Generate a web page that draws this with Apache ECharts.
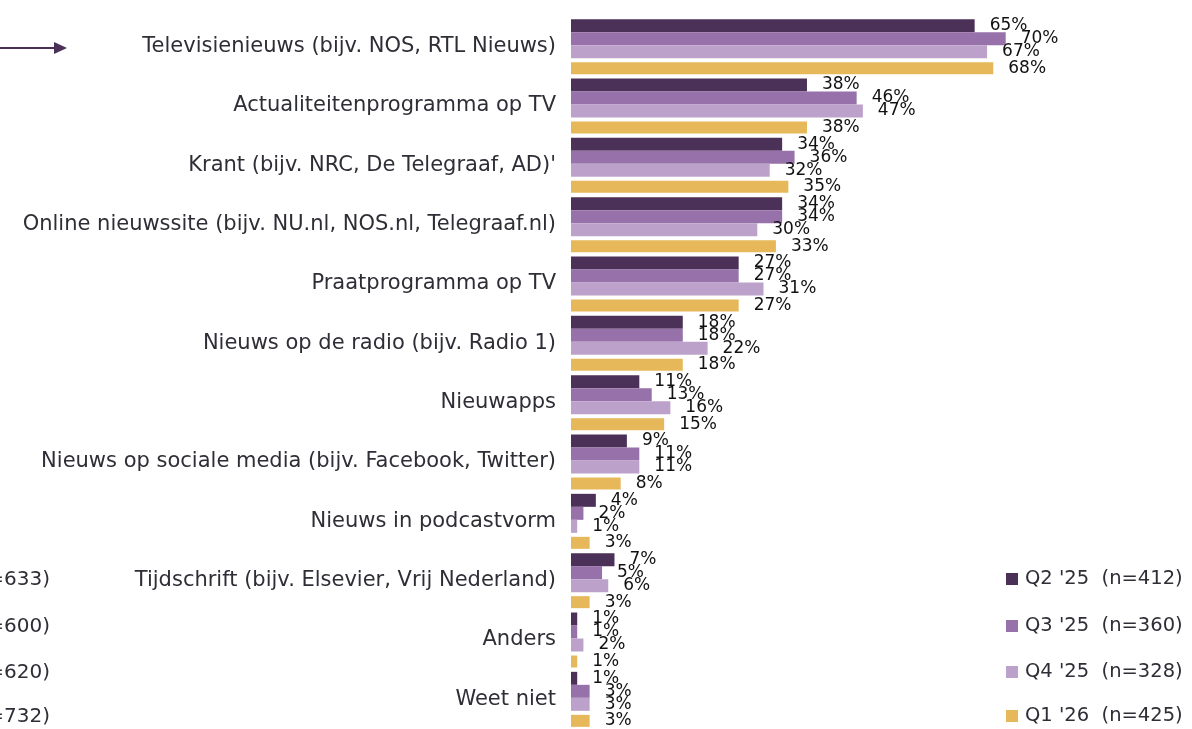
<!DOCTYPE html>
<html>
<head>
<meta charset="utf-8">
<script src="https://cdn.jsdelivr.net/npm/echarts@6/dist/echarts.min.js"></script>
<style>
html,body{margin:0;padding:0;background:#fff;}
#chart{width:1192px;height:729px;}
</style>
</head>
<body>
<div id="chart"></div>
<script>
const categories = [
  "Televisienieuws (bijv. NOS, RTL Nieuws)",
  "Actualiteitenprogramma op TV",
  "Krant (bijv. NRC, De Telegraaf, AD)'",
  "Online nieuwssite (bijv. NU.nl, NOS.nl, Telegraaf.nl)",
  "Praatprogramma op TV",
  "Nieuws op de radio (bijv. Radio 1)",
  "Nieuwapps",
  "Nieuws op sociale media (bijv. Facebook, Twitter)",
  "Nieuws in podcastvorm",
  "Tijdschrift (bijv. Elsevier, Vrij Nederland)",
  "Anders",
  "Weet niet"
];
const seriesNames = ["Q2 '25  (n=412)", "Q3 '25  (n=360)", "Q4 '25  (n=328)", "Q1 '26  (n=425)"];
const q2_25 = [65, 38, 34, 34, 27, 18, 11, 9, 4, 7, 1, 1];
const q3_25 = [70, 46, 36, 34, 27, 18, 13, 11, 2, 5, 1, 3];
const q4_25 = [67, 47, 32, 30, 31, 22, 16, 11, 1, 6, 2, 3];
const q1_26 = [68, 38, 35, 33, 27, 18, 15, 8, 3, 3, 1, 3];
const otherLegendLabels = ["(n=633)", "(n=600)", "(n=620)", "(n=732)"];

const colors = ["#4b3157", "#9771aa", "#bca2cb", "#e6b85a"];
const fontFam = "'DejaVu Sans', sans-serif";

function barSeries(name, data, color, width) {
  return {
    name: name,
    type: 'bar',
    data: data,
    barWidth: width,
    barGap: '0%',
    itemStyle: { color: color },
    label: {
      show: true,
      position: 'right',
      distance: 15,
      formatter: '{c}%',
      color: '#111',
      fontSize: 17,
      fontFamily: fontFam
    },
    emphasis: { disabled: true }
  };
}

const legendTops = [580, 627, 673, 717];

const chart = echarts.init(document.getElementById('chart'));
const option = {
  animation: false,
  backgroundColor: '#fff',
  grid: { left: 571, top: 17, width: 630, height: 720, containLabel: false },
  xAxis: {
    type: 'value', min: 0, max: 100,
    show: false
  },
  yAxis: {
    type: 'category',
    data: categories,
    inverse: true,
    axisLine: { show: false },
    axisTick: { show: false },
    splitLine: { show: false },
    axisLabel: {
      margin: 15,
      color: '#2e2e36',
      fontSize: 21,
      fontFamily: fontFam
    }
  },
  legend: seriesNames.map((n, i) => ({
    data: [n],
    orient: 'vertical',
    left: 1006,
    top: legendTops[i] - 11,
    padding: 0,
    itemWidth: 12,
    itemHeight: 12,
    itemGap: 6,
    icon: 'rect',
    textStyle: { color: '#2e2e36', fontSize: 19.5, fontFamily: fontFam, padding: [0, 0, 0, 2] },
    selectedMode: false
  })),
  series: [
    barSeries(seriesNames[0], q2_25, colors[0], 13),
    barSeries(seriesNames[1], q3_25, colors[1], 13),
    barSeries(seriesNames[2], q4_25, colors[2], 13),
    {
      name: 'gap', type: 'bar', data: categories.map(() => 0), barWidth: 4, barGap: '0%',
      itemStyle: { color: 'rgba(0,0,0,0)' }, silent: true, label: { show: false }
    },
    barSeries(seriesNames[3], q1_26, colors[3], 12)
  ],
  graphic: [
    { type: 'line', shape: { x1: 0, y1: 48, x2: 56, y2: 48 }, style: { stroke: '#4b3157', lineWidth: 2 } },
    { type: 'polygon', shape: { points: [[54, 42], [67, 48], [54, 54]] }, style: { fill: '#4b3157' } }
  ].concat(otherLegendLabels.map((t, i) => ({
    type: 'text', x: 50, y: legendTops[i],
    style: { text: t, fill: '#2e2e36', font: "20px " + fontFam, textAlign: 'right', textVerticalAlign: 'middle' }
  })))
};
chart.setOption(option);
</script>
</body>
</html>
